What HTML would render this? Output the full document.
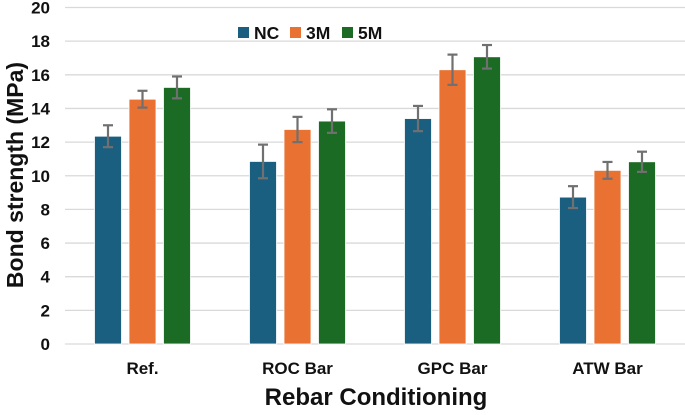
<!DOCTYPE html>
<html><head><meta charset="utf-8"><style>
body{margin:0;background:#fff;font-family:"Liberation Sans",Arial,sans-serif}
svg text{font-family:"Liberation Sans",Arial,sans-serif;font-weight:bold;fill:#111}
</style></head><body>
<svg id="chart" width="685" height="410"></svg>
<script>
const categories=["Ref.","ROC Bar","GPC Bar","ATW Bar"];
const seriesNames=["NC","3M","5M"];
const valuesNC=[12.35,10.85,13.4,8.73];
const values3M=[14.55,12.75,16.3,10.32];
const values5M=[15.25,13.25,17.07,10.83];
const errNC=[0.65,1.0,0.75,0.65];
const err3M=[0.5,0.75,0.9,0.5];
const err5M=[0.65,0.7,0.7,0.6];
const yTicks=[0,2,4,6,8,10,12,14,16,18,20];
const colors=["#1a5e80","#e97132","#1b6b24"];
const NS="http://www.w3.org/2000/svg";
const svg=document.getElementById('chart');
const x0=65,x1=685,yBase=344,yTop=7.5;
function y(v){return yBase-(v-0)*(yBase-yTop)/20;}
function mk(t,a,p){const e=document.createElementNS(NS,t);for(const k in a)e.setAttribute(k,a[k]);(p||svg).appendChild(e);return e;}
yTicks.forEach(t=>{
  const g=mk('line',{x1:x0,x2:x1,y1:y(t),y2:y(t),stroke:'#d9d9d9','stroke-width':1.3});
  
  
  const l=mk('text',{x:50,y:y(t)+6,'text-anchor':'end','font-size':17});
  l.textContent=t;
  
  
});
const cw=(x1-x0)/categories.length,bw=27,step=34.5;
const all=[valuesNC,values3M,values5M],errs=[errNC,err3M,err5M];
categories.forEach((c,i)=>{
  const cx=x0+cw*(i+0.5);
  all.forEach((vals,s)=>{
    const bx=cx+(s-1)*step-bw/2;
    const r=mk('rect',{x:bx,y:y(vals[i]),width:bw,height:yBase-y(vals[i]),fill:colors[s],stroke:'#fff','stroke-width':0.8});
    
    
    const ex=bx+bw/2,e=errs[s][i];
    const eg=mk('g',{stroke:'#707070','stroke-width':2.2});
    
    
    mk('line',{x1:ex,x2:ex,y1:y(vals[i]+e),y2:y(vals[i]-e)},eg);
    mk('line',{x1:ex-5,x2:ex+5,y1:y(vals[i]+e),y2:y(vals[i]+e)},eg);
    mk('line',{x1:ex-5,x2:ex+5,y1:y(vals[i]-e),y2:y(vals[i]-e)},eg);
  });
  const t=mk('text',{x:cx,y:374,'text-anchor':'middle','font-size':17});
  t.textContent=c;
  
  
});
const lx=[238,290,342];
seriesNames.forEach((n,s)=>{
  const r=mk('rect',{x:lx[s],y:27,width:11,height:11,fill:colors[s]});
  
  
  const t=mk('text',{x:lx[s]+16,y:39,'font-size':17.5});
  t.textContent=n;
  
  
});
const xt=mk('text',{x:376,y:405,'text-anchor':'middle','font-size':24});
xt.textContent="Rebar Conditioning";


const yt=mk('text',{x:0,y:0,'text-anchor':'middle','font-size':23,transform:'translate(23,175) rotate(-90)'});
yt.textContent="Bond strength (MPa)";


</script>
</body></html>
